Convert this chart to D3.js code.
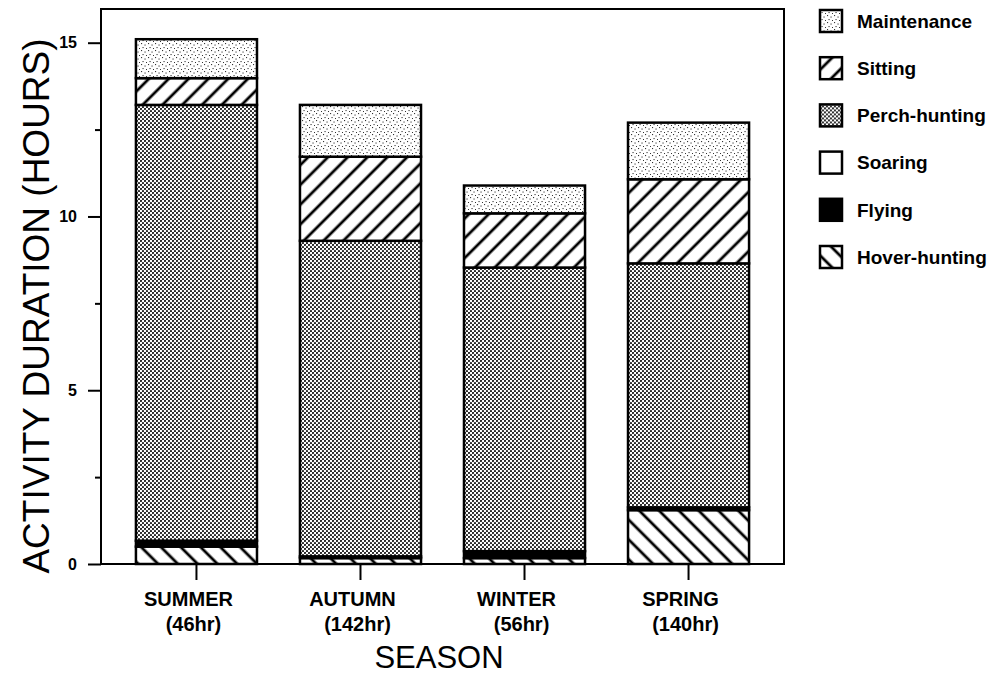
<!DOCTYPE html>
<html>
<head>
<meta charset="utf-8">
<script src="https://cdn.jsdelivr.net/npm/d3@7"></script>
<style>
  html, body { margin: 0; padding: 0; background: #fff; }
  svg { display: block; }
  text { font-family: "Liberation Sans", Arial, Helvetica, sans-serif; fill: #000; }
</style>
</head>
<body>
<svg id="chart" width="1007" height="677"></svg>
<script>
// ---- data ----
const seasons = ["SUMMER", "AUTUMN", "WINTER", "SPRING"];
const observedHours = ["(46hr)", "(142hr)", "(56hr)", "(140hr)"];
const activities = ["Hover-hunting", "Flying", "Soaring", "Perch-hunting", "Sitting", "Maintenance"];
const hoverHunting = [0.50, 0.17, 0.17, 1.55];
const flying       = [0.17, 0.05, 0.20, 0.08];
const soaring      = [0.00, 0.00, 0.00, 0.00];
const perchHunting = [12.54, 9.08, 8.16, 7.02];
const sitting      = [0.77, 2.42, 1.56, 2.42];
const maintenance  = [1.12, 1.49, 0.80, 1.63];
const yMajorTicks = [0, 5, 10, 15];
const yMinorTicks = [2.5, 7.5, 12.5];
const legendOrder = ["Maintenance", "Sitting", "Perch-hunting", "Soaring", "Flying", "Hover-hunting"];
const xTitle = "SEASON";
const yTitle = "ACTIVITY DURATION (HOURS)";

const seriesValues = {
  "Hover-hunting": hoverHunting,
  "Flying": flying,
  "Soaring": soaring,
  "Perch-hunting": perchHunting,
  "Sitting": sitting,
  "Maintenance": maintenance
};
const table = seasons.map((s, i) => {
  const row = { season: s };
  activities.forEach(a => row[a] = seriesValues[a][i]);
  return row;
});

// ---- layout ----
const svg = d3.select("#chart");
const frame = { left: 101, right: 784, top: 9, bottom: 564 };

const x = d3.scaleBand().domain(seasons)
  .range([frame.left, frame.right]).paddingInner(0.262).paddingOuter(0.213);
const y = d3.scaleLinear().domain([0, 15]).range([frame.bottom, 42.7]);

// ---- patterns ----
const defs = svg.append("defs");
const pMaint = defs.append("pattern").attr("id", "pat-maint")
  .attr("patternUnits", "userSpaceOnUse").attr("width", 7).attr("height", 7);
pMaint.append("rect").attr("width", 7).attr("height", 7).attr("fill", "#fff");
[[1, 1], [4.5, 2.5], [2.5, 5], [6, 6]].forEach(([cx, cy]) =>
  pMaint.append("rect").attr("x", cx).attr("y", cy).attr("width", 1.1).attr("height", 1.1).attr("fill", "#333"));

const pPerch = defs.append("pattern").attr("id", "pat-perch")
  .attr("patternUnits", "userSpaceOnUse").attr("width", 4).attr("height", 4);
pPerch.append("rect").attr("width", 4).attr("height", 4).attr("fill", "#fff");
[[1, 1], [3, 3]].forEach(([cx, cy]) =>
  pPerch.append("circle").attr("cx", cx).attr("cy", cy).attr("r", 1.1).attr("fill", "#1a1a1a"));

function hatch(id, angle) {
  const p = defs.append("pattern").attr("id", id)
    .attr("patternUnits", "userSpaceOnUse").attr("width", 14).attr("height", 14)
    .attr("patternTransform", `rotate(${angle})`);
  p.append("rect").attr("width", 14).attr("height", 14).attr("fill", "#fff");
  p.append("line").attr("x1", 7).attr("x2", 7).attr("y1", -1).attr("y2", 15)
    .attr("stroke", "#000").attr("stroke-width", 2.8);
}
hatch("pat-sit", 45);
hatch("pat-hover", -45);

const fills = {
  "Maintenance": "url(#pat-maint)",
  "Sitting": "url(#pat-sit)",
  "Perch-hunting": "url(#pat-perch)",
  "Soaring": "#fff",
  "Flying": "#000",
  "Hover-hunting": "url(#pat-hover)"
};

// ---- frame ----
svg.append("rect")
  .attr("x", frame.left).attr("y", frame.top)
  .attr("width", frame.right - frame.left).attr("height", frame.bottom - frame.top)
  .attr("fill", "none").attr("stroke", "#000").attr("stroke-width", 2);

// ---- bars ----
const stack = d3.stack().keys(activities)(table);
const layers = svg.append("g").selectAll("g").data(stack).join("g")
  .attr("fill", d => fills[d.key]);
layers.selectAll("rect").data(d => d.filter(v => v[1] - v[0] > 0)).join("rect")
  .attr("x", d => x(d.data.season))
  .attr("width", x.bandwidth())
  .attr("y", d => y(d[1]))
  .attr("height", d => y(d[0]) - y(d[1]))
  .attr("stroke", "#000").attr("stroke-width", 2.5);

// ---- y axis ----
const yAxis = svg.append("g").attr("transform", `translate(${frame.left},0)`)
  .call(d3.axisLeft(y).tickValues(yMajorTicks).tickSize(13).tickPadding(11).tickFormat(d3.format("d")));
yAxis.select(".domain").remove();
yAxis.selectAll(".tick line").attr("stroke-width", 2);
yAxis.selectAll(".tick text").style("font-size", "16px").style("font-weight", "bold")
  .style("font-family", "'Liberation Sans', Arial, sans-serif");

const yMinor = svg.append("g").attr("transform", `translate(${frame.left},0)`)
  .call(d3.axisLeft(y).tickValues(yMinorTicks).tickSize(6).tickFormat(""));
yMinor.select(".domain").remove();
yMinor.selectAll(".tick line").attr("stroke-width", 2);

// ---- x axis ----
const xAxis = svg.append("g").attr("transform", `translate(0,${frame.bottom})`)
  .call(d3.axisBottom(x).tickSize(16).tickFormat(""));
xAxis.select(".domain").remove();
xAxis.selectAll(".tick line").attr("stroke-width", 2);

const xLabels = svg.append("g").selectAll("g").data(seasons).join("g")
  .attr("transform", d => `translate(${x(d) + x.bandwidth() / 2},0)`);
xLabels.append("text").attr("x", -8).attr("y", 606).attr("text-anchor", "middle")
  .style("font-size", "20px").style("font-weight", "bold").text(d => d);
xLabels.append("text").attr("x", -3).attr("y", 631).attr("text-anchor", "middle")
  .style("font-size", "20px").style("font-weight", "bold").text((d, i) => observedHours[i]);

// ---- titles ----
svg.append("text").attr("x", 439).attr("y", 668).attr("text-anchor", "middle")
  .style("font-size", "31px").text(xTitle);
svg.append("text").attr("transform", "translate(49,306) rotate(-90)")
  .attr("text-anchor", "middle").style("font-size", "37px").text(yTitle);

// ---- legend ----
const legendY = d3.scalePoint().domain(legendOrder).range([21, 257]);
const leg = svg.append("g").selectAll("g").data(legendOrder).join("g")
  .attr("transform", d => `translate(0,${legendY(d)})`);
leg.append("rect").attr("x", 820).attr("y", -11).attr("width", 22).attr("height", 22)
  .attr("fill", d => fills[d]).attr("stroke", "#000").attr("stroke-width", 2.5);
leg.append("text").attr("x", 857).attr("y", 0).attr("dy", "0.36em")
  .style("font-size", "19px").style("font-weight", "bold").text(d => d);
</script>
</body>
</html>
